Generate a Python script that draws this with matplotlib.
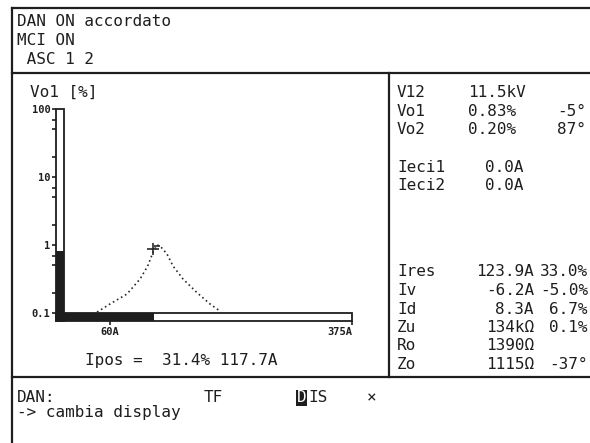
import numpy as np
import matplotlib
matplotlib.use("Agg")
import matplotlib.pyplot as plt
from matplotlib.patches import Rectangle
from matplotlib.ticker import FixedLocator, NullFormatter

HEADER = ["DAN ON accordato", "MCI ON", " ASC 1 2"]
VO1_PCT = 0.83          # bar on the left, Vo1 [%]
IPOS_A = 117.7          # bar at the bottom, Ipos [A]
IPOS_PCT = 31.4
I_FULL = 375            # full scale of the current axis

# resonance curve (dotted), current [A] vs Vo1 [%]
curve_i = [43, 60, 82, 99, 109, 116, 121, 125, 134, 142, 155, 173, 190, 203]
curve_v = [0.103, 0.136, 0.19, 0.316, 0.49, 0.79, 1.0,
           0.97, 0.74, 0.49, 0.316, 0.20, 0.136, 0.107]
peak_i, peak_v = 116, 0.87

upper_lab = ["V12", "Vo1", "Vo2"]
upper_val = ["11.5kV", "0.83%", "0.20%"]
upper_ang = ["", "-5°", "87°"]
ieci_lab = ["Ieci1", "Ieci2"]
ieci_val = ["0.0A", "0.0A"]
lower_lab = ["Ires", "Iv", "Id", "Zu", "Ro", "Zo"]
lower_val = ["123.9A", "-6.2A", "8.3A", "134kΩ", "1390Ω", "1115Ω"]
lower_pct = ["33.0%", "-5.0%", "6.7%", "0.1%", "", "-37°"]

W, H = 590, 443
INK = "#1e1e1e"
MONO = "DejaVu Sans Mono"
FS = 11.5

fig = plt.figure(figsize=(W / 100, H / 100), dpi=100)
fig.patch.set_facecolor("white")

# ---------- frame / text layer in pixel coords ----------
bg = fig.add_axes([0, 0, 1, 1])
bg.set_xlim(0, W)
bg.set_ylim(H, 0)
bg.axis("off")

lw = 1.6
bg.plot([12, 12], [8, H], color=INK, lw=lw)
bg.plot([12, W], [8, 8], color=INK, lw=lw)
bg.plot([12, W], [73, 73], color=INK, lw=lw)
bg.plot([12, W], [377, 377], color=INK, lw=lw)
bg.plot([389, 389], [73, 377], color=INK, lw=lw)

def txt(x, y, s, ha="left", **kw):
    bg.text(x, y, s, ha=ha, va="center", family=MONO, fontsize=kw.pop("fs", FS),
            color=kw.pop("color", INK), **kw)

for k, line in enumerate(HEADER):
    txt(17, 21 + 19 * k, line)

txt(30, 92, "Vo1 [%]")
txt(85, 360, f"Ipos =  {IPOS_PCT}% {IPOS_A}A")

for k in range(3):
    y = 92 + 19 * k
    txt(397, y, upper_lab[k])
    txt(468, y, upper_val[k])
    txt(586, y, upper_ang[k], ha="right")
for k in range(2):
    y = 168 + 18 * k
    txt(397, y, ieci_lab[k])
    txt(523, y, ieci_val[k], ha="right")
for k in range(6):
    y = 272 + 18.5 * k
    txt(397, y, lower_lab[k])
    txt(534, y, lower_val[k], ha="right")
    txt(588, y, lower_pct[k], ha="right")

txt(17, 398, "DAN:")
txt(204, 398, "TF")
txt(297, 398, "D", color="white",
    bbox=dict(boxstyle="square,pad=0.05", fc=INK, ec="none"))
txt(308, 398, "IS")
txt(367, 398, "×")
txt(17, 412, "-> cambia display")

# ---------- chart ----------
L, R, T, B = 56, 352, 109, 321      # chart box in px
BAR = 8                             # bar thickness in px
DEC = 68                            # px per decade
px_per_a = (R - L - BAR) / I_FULL
ax = fig.add_axes([L / W, 1 - B / H, (R - L) / W, (B - T) / H])
ax.set_xlim(-BAR / px_per_a, I_FULL)
ax.set_yscale("log")
ax.set_ylim(10 ** (-1 - BAR / DEC), 100)
for s in ax.spines.values():
    s.set_visible(False)
ax.patch.set_alpha(0)

fx, fy = BAR / (R - L), BAR / (B - T)
ytr = ax.get_yaxis_transform()
xtr = ax.get_xaxis_transform()
ymin = ax.get_ylim()[0]
ax.add_patch(Rectangle((0, ymin), fx, VO1_PCT - ymin, transform=ytr,
                       fc=INK, ec="none", clip_on=False))
ax.add_patch(Rectangle((ax.get_xlim()[0], 0), IPOS_A - ax.get_xlim()[0], fy,
                       transform=xtr, fc=INK, ec="none", clip_on=False))
ax.add_patch(Rectangle((0, 0), fx, 1, transform=ax.transAxes,
                       fc="none", ec=INK, lw=1.3, clip_on=False))
ax.add_patch(Rectangle((0, 0), 1, fy, transform=ax.transAxes,
                       fc="none", ec=INK, lw=1.3, clip_on=False))

ax.plot(curve_i, curve_v, color="#2a2a2a", lw=1.2, ls=(0, (1, 1.8)))
ax.plot([peak_i], [peak_v], marker="+", ms=8, mew=1.2, color="#2a2a2a")
ax.plot([peak_i + 5], [peak_v * 1.12], marker="_", ms=5, mew=1.2, color="#2a2a2a")

ax.yaxis.set_major_locator(FixedLocator([0.1, 1, 10, 100]))
ax.set_yticklabels(["0.1", "1", "10", "100"])
minors = [m * d for d in (0.1, 1, 10) for m in (2, 5, 7)]
ax.yaxis.set_minor_locator(FixedLocator(minors))
ax.yaxis.set_minor_formatter(NullFormatter())
ax.set_xticks([60, I_FULL])
ax.set_xticklabels(["60A", "375A"])
ax.tick_params(axis="both", which="both", direction="out", length=3,
               width=1.2, color=INK, labelsize=7.5, labelcolor=INK, pad=1)
for t in ax.get_yticklabels() + ax.get_xticklabels():
    t.set_fontweight("bold")
    t.set_family(MONO)
ax.get_xticklabels()[1].set_horizontalalignment("right")

fig.savefig("out.png", dpi=100)
